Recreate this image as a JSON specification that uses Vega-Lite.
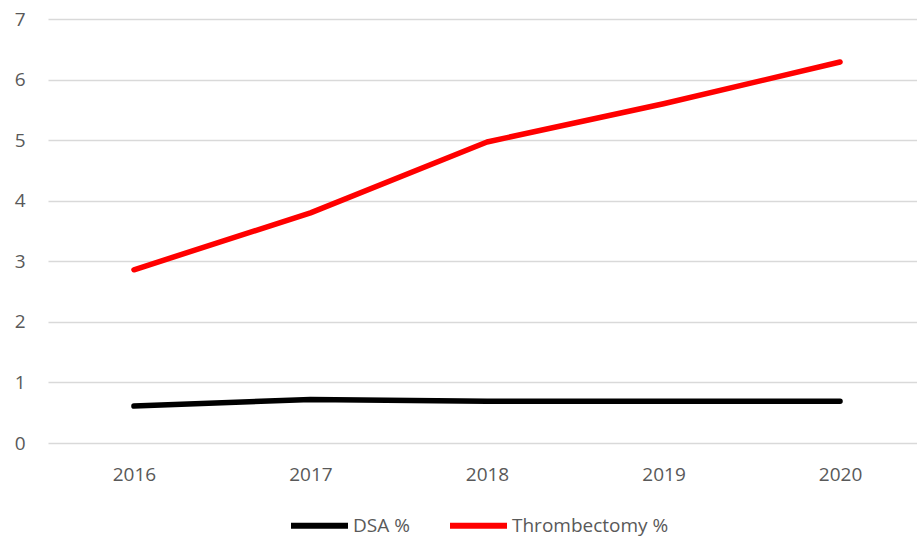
{
  "$schema": "https://vega.github.io/schema/vega-lite/v6.json",
  "width": 869,
  "height": 424,
  "autosize": {"type": "none"},
  "padding": {"left": 48, "top": 19, "right": 0, "bottom": 100},
  "background": "white",
  "config": {
    "view": {"stroke": null},
    "font": "Open Sans"
  },
  "data": {
    "values": [
      {"year": 2016, "series": "DSA %", "value": 0.61},
      {"year": 2017, "series": "DSA %", "value": 0.72},
      {"year": 2018, "series": "DSA %", "value": 0.69},
      {"year": 2019, "series": "DSA %", "value": 0.69},
      {"year": 2020, "series": "DSA %", "value": 0.69},
      {"year": 2016, "series": "Thrombectomy %", "value": 2.86},
      {"year": 2017, "series": "Thrombectomy %", "value": 3.8},
      {"year": 2018, "series": "Thrombectomy %", "value": 4.97},
      {"year": 2019, "series": "Thrombectomy %", "value": 5.6},
      {"year": 2020, "series": "Thrombectomy %", "value": 6.29}
    ]
  },
  "mark": {"type": "line", "strokeWidth": 5.5, "strokeCap": "round", "strokeJoin": "round"},
  "encoding": {
    "x": {
      "field": "year",
      "type": "quantitative",
      "scale": {"domain": [2015.513, 2020.436], "nice": false, "zero": false},
      "axis": {
        "values": [2016, 2017, 2018, 2019, 2020],
        "format": "d",
        "title": null,
        "grid": false,
        "domain": false,
        "ticks": false,
        "labelFontSize": 19,
        "labelColor": "#595959",
        "labelPadding": 22,
        "labelFont": "Open Sans"
      }
    },
    "y": {
      "field": "value",
      "type": "quantitative",
      "scale": {"domain": [0, 7], "nice": false},
      "axis": {
        "values": [0, 1, 2, 3, 4, 5, 6, 7],
        "title": null,
        "grid": true,
        "gridColor": "#d9d9d9",
        "gridWidth": 1.5,
        "domain": false,
        "ticks": false,
        "labelFontSize": 19,
        "labelColor": "#595959",
        "labelPadding": 23,
        "labelFont": "Open Sans"
      }
    },
    "color": {
      "field": "series",
      "type": "nominal",
      "scale": {"domain": ["DSA %", "Thrombectomy %"], "range": ["#000000", "#ff0000"]},
      "legend": {
        "title": null,
        "orient": "none",
        "direction": "horizontal",
        "legendX": 240,
        "legendY": 475,
        "symbolType": "stroke",
        "symbolSize": 3249,
        "symbolStrokeWidth": 6,
        "labelFontSize": 19,
        "labelColor": "#595959",
        "labelOffset": 2,
        "columnPadding": 28,
        "labelFont": "Open Sans"
      }
    }
  }
}
